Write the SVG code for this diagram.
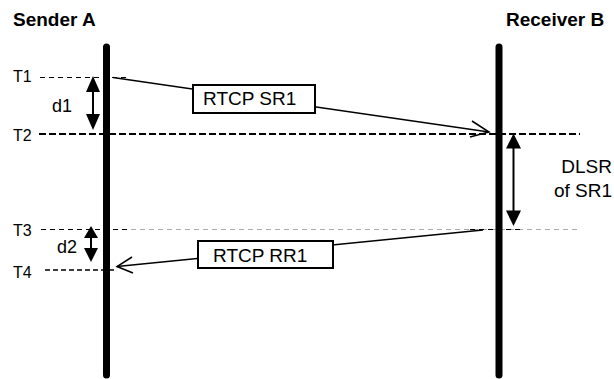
<svg xmlns="http://www.w3.org/2000/svg" width="614" height="379" viewBox="0 0 614 379">
<style>
.hdr{font-family:"Liberation Sans",Arial,sans-serif;font-weight:bold;font-size:19px;fill:#000}
.lbl{font-family:"Liberation Sans",Arial,sans-serif;font-size:16px;fill:#000}
.dl{font-family:"Liberation Sans",Arial,sans-serif;font-size:18px;fill:#000}
.big{font-family:"Liberation Sans",Arial,sans-serif;font-size:19px;fill:#000}
.thin{stroke:#000;stroke-width:1;stroke-dasharray:5 4;fill:none}
.grey{stroke:#aaa;stroke-width:1;stroke-dasharray:5 4;fill:none}
.thick{stroke:#000;stroke-width:2;stroke-dasharray:7 3;fill:none}
.mid{stroke:#000;stroke-width:1.5;stroke-dasharray:5 3;fill:none}
.life{stroke:#000;stroke-width:7;stroke-linecap:round;fill:none}
.msg{stroke:#000;stroke-width:1.5;fill:none}
.box{fill:#fff;stroke:#000;stroke-width:2}
.shaft{stroke:#000;stroke-width:2;fill:none}
</style>
<g id="timelines">
<line class="thin" x1="40" y1="77.5" x2="127" y2="77.5"/>
<line class="thick" x1="39" y1="134" x2="580" y2="134"/>
<line class="grey" x1="41" y1="229.5" x2="580" y2="229.5"/>
<line class="thin" x1="41" y1="229.5" x2="127" y2="229.5"/>
<line class="thin" x1="470" y1="229.5" x2="523" y2="229.5"/>
<line class="mid" x1="45" y1="270" x2="117" y2="270"/>
<text class="lbl" x="13" y="82">T1</text>
<text class="lbl" x="13" y="141">T2</text>
<text class="lbl" x="13" y="236">T3</text>
<text class="lbl" x="13" y="278">T4</text>
</g>
<g id="senderA">
<text class="hdr" x="13" y="26">Sender A</text>
<line class="life" x1="106.5" y1="47" x2="106.5" y2="375"/>
</g>
<g id="receiverB">
<text class="hdr" x="506" y="26">Receiver B</text>
<line class="life" x1="499" y1="47" x2="499" y2="375"/>
</g>
<g id="connectors">
<line class="msg" x1="113" y1="77.5" x2="489" y2="132"/>
<polyline class="msg" points="472,121 489,132 470,137"/>
<line class="msg" x1="483" y1="230" x2="117" y2="266.5"/>
<polyline class="msg" points="132,257 117,266.5 133,273"/>
</g>
<g id="sr1">
<rect class="box" x="193" y="85" width="122" height="28"/>
<text class="big" x="203" y="104.5">RTCP SR1</text>
</g>
<g id="rr1">
<rect class="box" x="198" y="241" width="135" height="27"/>
<text class="big" x="213" y="262">RTCP RR1</text>
</g>
<g id="d1">
<line class="shaft" x1="93" y1="90" x2="93" y2="116"/>
<polygon points="93,76 86,92 100,92"/>
<polygon points="93,130 86,114 100,114"/>
<text class="dl" x="52" y="112">d1</text>
</g>
<g id="d2">
<line class="shaft" x1="91" y1="236" x2="91" y2="250"/>
<polygon points="91,226 84,238 98,238"/>
<polygon points="91,262 84,248 98,248"/>
<text class="dl" x="57" y="253">d2</text>
</g>
<g id="dlsr">
<line class="shaft" x1="513.5" y1="146" x2="513.5" y2="213"/>
<polygon points="513.5,133.5 506,148.5 521,148.5"/>
<polygon points="513.5,226 506,210.5 521,210.5"/>
<text class="big" x="612" y="173" text-anchor="end">DLSR</text>
<text class="big" x="612" y="197" text-anchor="end">of SR1</text>
</g>
</svg>
